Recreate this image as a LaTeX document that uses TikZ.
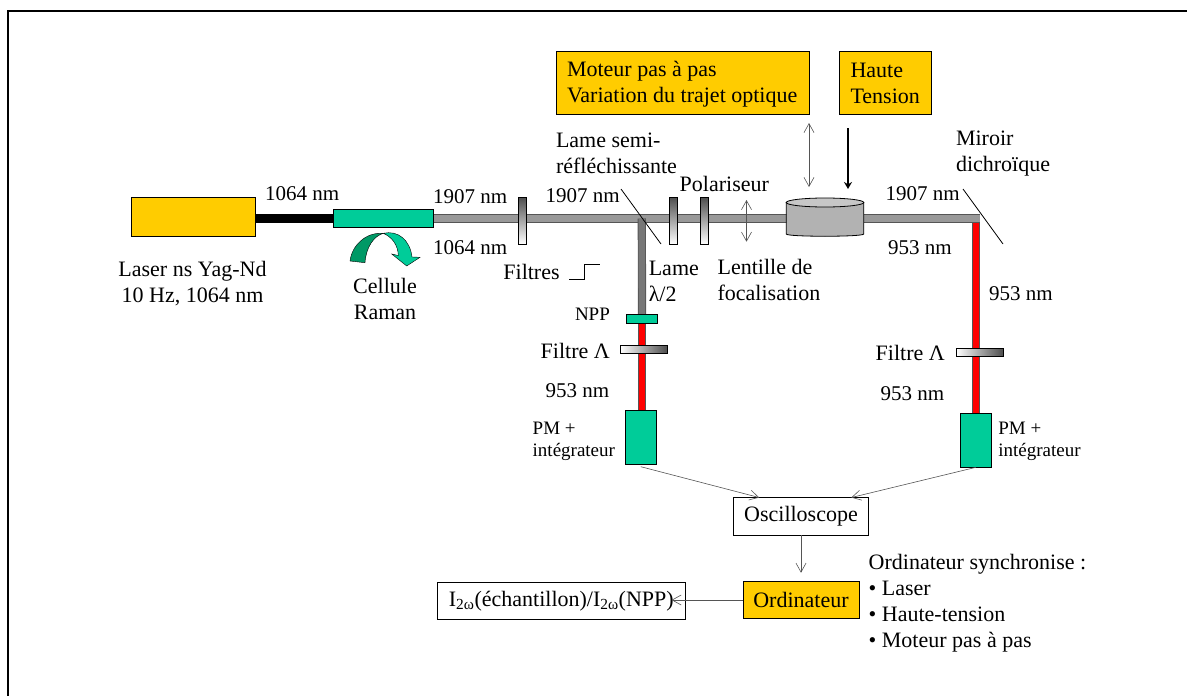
\documentclass[tikz,border=0pt]{standalone}
\usepackage{fontspec}
\setmainfont{Liberation Serif}
\usetikzlibrary{positioning,arrows.meta,backgrounds}
\definecolor{laseryellow}{HTML}{FFCC00}
\definecolor{cellgreen}{HTML}{00CC99}
\definecolor{darkgreen}{HTML}{009966}
\definecolor{beamgrey}{HTML}{999999}
\definecolor{edgegrey}{HTML}{555555}
\definecolor{platedark}{HTML}{4D4D4D}
\newcommand{\bigsize}{\fontsize{22}{26}\selectfont}
\newcommand{\nmsize}{\fontsize{21}{26}\selectfont}
\newcommand{\smallsize}{\fontsize{19}{22.5}\selectfont}

\begin{document}
\begin{tikzpicture}[x=1pt, y=-1pt, >={Straight Barb[length=9pt,width=10pt]},
                        every node/.style={font=\bigsize, inner sep=0pt, outer sep=0pt},
                        block/.style={draw=black, line width=0.9pt, minimum width=#1},
                        block/.default=100pt,
                        plate/.style={draw=black, line width=0.7pt, minimum width=8pt, minimum height=47pt, top color=platedark, bottom color=white},
                        filtre/.style={draw=black, line width=0.7pt, minimum width=47pt, minimum height=8pt, left color=white, right color=platedark},
                        label/.style={anchor=west, align=left},
                        nm/.style={label, font=\nmsize},
                        beam/.style={line width=0.9pt, double distance=6.4pt, draw=edgegrey, double=#1},
                        link/.style={->, draw=edgegrey, line width=0.6pt}]
        \useasboundingbox (0,0) rectangle (1187,696);
        \draw[line width=2pt] (8,696) -- (8,10.5) -- (1187,10.5);

        \node (laser) [block=124pt, minimum height=39pt, fill=laseryellow] at (193,216.5) {};
        \node (cell) [block=100pt, minimum height=17.5pt, fill=cellgreen] at (383,218.5) {};
        \node (plateF) [plate] at (522,220.5) {};
        \node (plateL) [plate] at (673.5,220.5) {};
        \node (plateP) [plate] at (704.7,220.5) {};
        \node (can) [minimum width=77.5pt, minimum height=36pt] at (825,216) {};
        \node (npp) [block=31.5pt, minimum height=8.3pt, fill=cellgreen] at (642,319) {};
        \node (filtreL) [filtre] at (644,349.3) {};
        \node (filtreR) [filtre] at (979.7,352) {};
        \node (pmL) [block=31.7pt, minimum height=54pt, fill=cellgreen] at (640.8,437.7) {};
        \node (pmR) [block=31.4pt, minimum height=54pt, fill=cellgreen] at (976,440.3) {};
        \node (moteur) [block=253pt, minimum height=63pt, fill=laseryellow] at (682.5,83) {};
        \node (haute) [block=92pt, minimum height=63pt, fill=laseryellow] at (885.5,83) {};
        \node (osc) [block=134.5pt, minimum height=37.5pt, fill=white] at (801,516.3) {Oscilloscope};
        \node (ordi) [block=116pt, minimum height=37.5pt, fill=laseryellow] at (801,600) {Ordinateur};
        \node (result) [block=248.5pt, minimum height=37pt, fill=white] at (561.3,600.8) {I\textsubscript{2ω}(échantillon)/I\textsubscript{2ω}(NPP)};

        \node (lasertxt) [align=center] at (192.5,283.7) {Laser ns Yag-Nd\\10 Hz, 1064 nm};
        \node (ramantxt) [align=center] at (385,299) {Cellule\\Raman};
        \node (in1064) [nm] at (265,193.5) {1064 nm};
        \node (out1907) [nm] at (433,197) {1907 nm};
        \node (out1064) [nm] at (433,248) {1064 nm};
        \node (semitxt) [label] at (556,153.7) {Lame semi-\\réfléchissante};
        \node (mid1907) [nm] at (545.5,196) {1907 nm};
        \node (poltxt) [label] at (679.7,184) {Polariseur};
        \node (miroirtxt) [label] at (956,153.3) {Miroir\\dichroïque};
        \node (end1907) [nm] at (885.7,194) {1907 nm};
        \node (end953) [nm] at (888,248) {953 nm};
        \node (red953) [nm] at (989,294) {953 nm};
        \node (filtrestxt) [label] at (503.4,271.7) {Filtres};
        \node (lametxt) [label] at (648.8,281.5) {Lame\\λ/2};
        \node (lentilletxt) [label] at (717.6,280) {Lentille de\\focalisation};
        \node (npptxt) [label, font=\smallsize] at (575,314) {NPP};
        \node (filtreLtxt) [label] at (540.7,351) {Filtre Λ};
        \node (filtreRtxt) [label] at (875.7,353) {Filtre Λ};
        \node (pmLnm) [nm] at (545.7,391) {953 nm};
        \node (pmRnm) [nm] at (880.7,394) {953 nm};
        \node (pmLtxt) [label, font=\smallsize] at (532.7,441.5) {PM +\\intégrateur};
        \node (pmRtxt) [label, font=\smallsize] at (998.3,441.5) {PM +\\intégrateur};
        \node (motxt) [label] at (567,83.7) {Moteur pas à pas\\Variation du trajet optique};
        \node (hautetxt) [label] at (850.5,83.7) {Haute\\Tension};
        \node (synctxt) [label] at (868.7,603) {Ordinateur synchronise :\\• Laser\\• Haute-tension\\• Moteur pas à pas};

        \coordinate (split) at (641.8,218.5);
        \coordinate (dichro) at (979.7,218.5);
        \coordinate (redtop) at (975.7,222.7);
        \coordinate (semiA) at (621,189);
        \coordinate (semiB) at (661,244);
        \coordinate (miroirA) at (963,189);
        \coordinate (miroirB) at (1003,244);
        \coordinate (lensA) at (746.5,200);
        \coordinate (lensB) at (746.5,241.7);
        \coordinate (motA) at (809,123);
        \coordinate (motB) at (809,187);
        \coordinate (htA) at (848,128);
        \coordinate (htB) at (848,189);
        \coordinate (stepA) at (569,279);
        \coordinate (stepB) at (584,264);
        \coordinate (stepC) at (600,264);

        \begin{scope}[on background layer]
            \draw[line width=9.5pt] (cell.west -| laser.east) -- (cell.west);
            \draw[beam=beamgrey] (cell.east) -- (dichro);
            \draw[beam=edgegrey!80] (split) -- (npp.north);
            \draw[beam=red] (npp.south) -- (npp.south |- pmL.north);
            \draw[beam=red] (redtop) -- (redtop |- pmR.north);
        \end{scope}

        \fill[black!30, draw=black, line width=0.8pt] ([yshift=-4.5pt]can.north west) -- (can.south west) .. controls ([yshift=-3pt]can.south west) and ([yshift=-3pt]can.south east) .. (can.south east) -- ([yshift=-4.5pt]can.north east) -- cycle;
        \draw[fill=black!22, line width=0.8pt] ([yshift=-4.5pt]can.north) ellipse [x radius=38.75pt, y radius=4.5pt];

        \draw[line width=0.8pt] (semiA) -- (semiB);
        \draw[line width=0.8pt] (miroirA) -- (miroirB);
        \draw[line width=0.8pt] (stepA) -| (stepB) -- (stepC);
        \draw[<->, edgegrey, line width=0.6pt] (lensA) -- (lensB);
        \draw[<->, edgegrey, line width=0.6pt] (motA) -- (motB);
        \draw[-{Stealth[length=7pt,width=8pt]}, line width=1.7pt] (htA) -- (htB);

        \draw[link] ([yshift=-2pt]pmL.south) -- ([xshift=25.5pt]osc.north west);
        \draw[link] (pmR.south) -- ([xshift=-17pt]osc.north east);
        \draw[link] (osc.south) -- ([yshift=8.5pt]ordi.north);
        \draw[link] (ordi.west) -- ([xshift=-14pt]ordi.west -| result.east);

        \fill[darkgreen, draw=black, line width=0.4pt] (350,261) .. controls (352,245) and (366,232) .. (383.3,233.3) .. controls (374,236) and (366,247) .. (365,262.7) -- cycle;
        \fill[cellgreen, draw=black, line width=0.4pt] (383.3,233.3) .. controls (398,230) and (410,240) .. (412,257) -- (420,257.3) -- (406.7,266) -- (391.7,254) -- (398.3,255.5) .. controls (398,245) and (392,237) .. (383.3,233.3) -- cycle;
    \end{tikzpicture}
\end{document}
